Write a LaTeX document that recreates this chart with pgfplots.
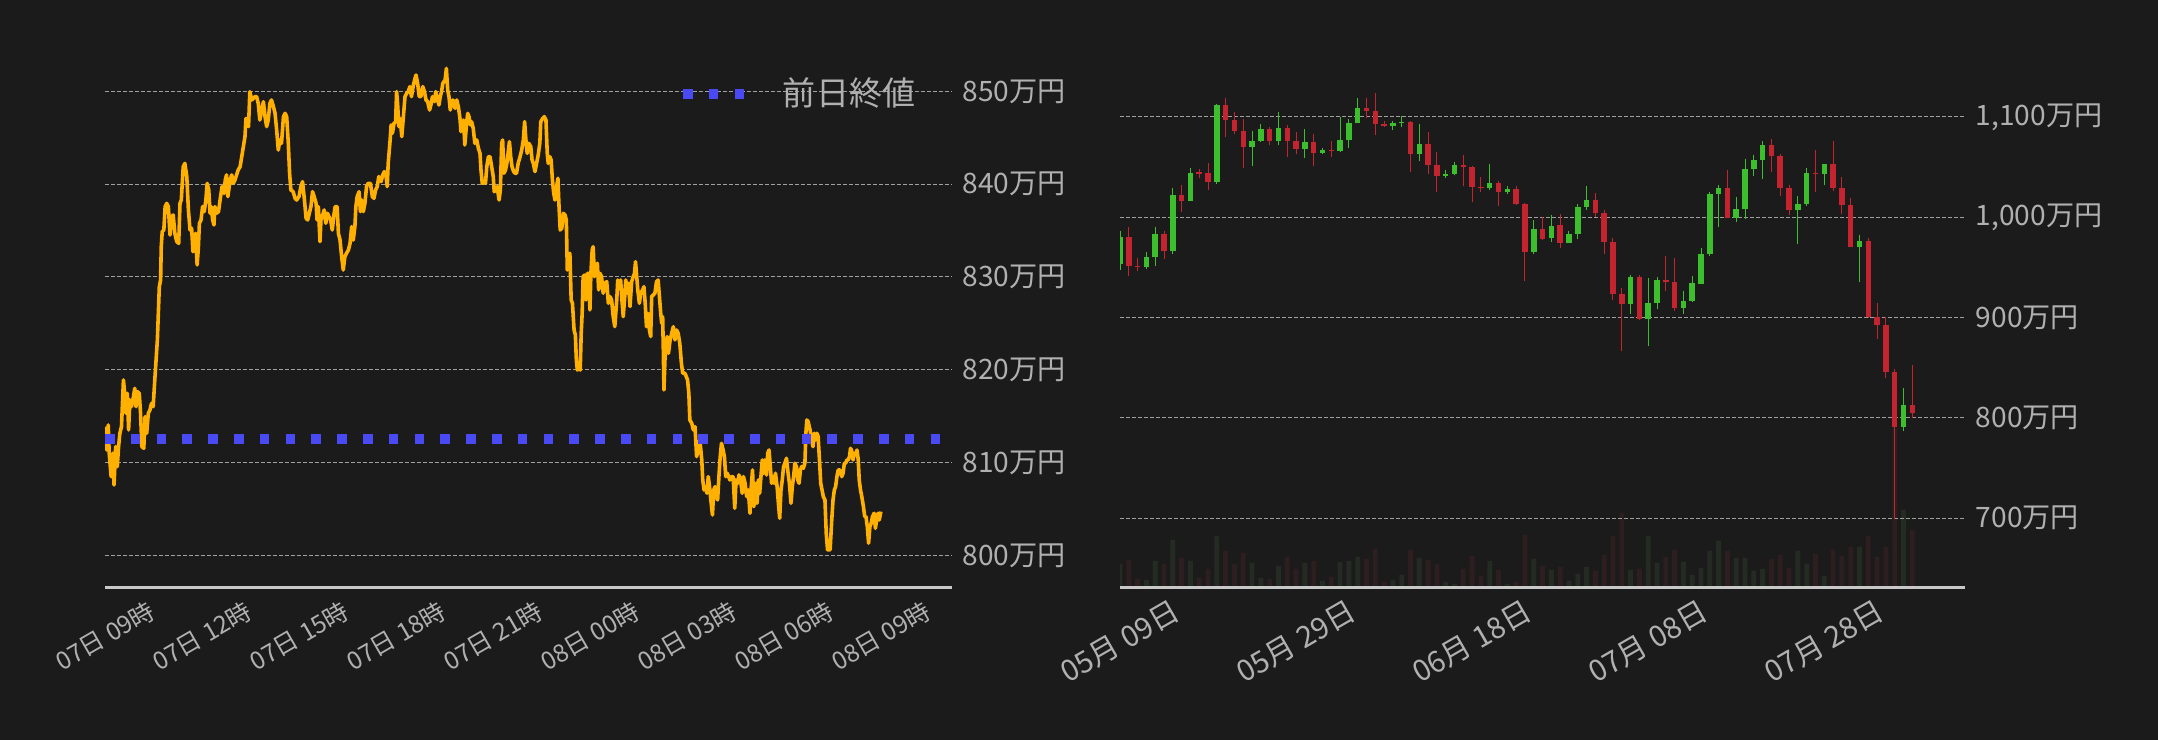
\documentclass[border=0pt]{standalone}
\usepackage{fontspec}
\setmainfont{Noto Sans CJK JP}
\usepackage{pgfplots}
\pgfplotsset{compat=1.18}
\usepackage{pgfplotstable}

\definecolor{bg}{HTML}{1B1B1B}
\definecolor{lbl}{HTML}{B0B0B0}
\definecolor{gridc}{HTML}{A0A0A0}
\definecolor{axc}{HTML}{C8C8C8}
\definecolor{gold}{HTML}{FFB000}
\definecolor{prevc}{HTML}{4A4AF5}
\definecolor{up}{HTML}{3DBE2D}
\definecolor{down}{HTML}{C42430}
\definecolor{upvol}{HTML}{232B23}
\definecolor{downvol}{HTML}{2D1E1F}

% 1 px of the reference = 0.1 mm
\pgfplotsset{
  darkax/.style={
    scale only axis, anchor=south west,
    axis x line*=bottom, axis y line*=right,
    x axis line style={draw=axc, line width=0.3mm, -},
    y axis line style={draw=none},
    major tick length=0pt,
    ymajorgrids,
    grid style={draw=gridc, line width=0.1mm, dash pattern=on 0.4mm off 0.2mm},
    yticklabel style={anchor=west, inner sep=0pt, xshift=1mm, text=lbl,
      font=\fontsize{8pt}{9pt}\selectfont},
    xticklabel style={inner sep=0pt, text=lbl, anchor=center},
  },
  candle/.style 2 args={draw=none, mark=none, error bars/.cd, y dir=plus, y explicit,
    error mark=none, error bar style={draw=#1, line width=#2}},
}

% intraday price, hours from 07日 00時, 万円
\pgfplotstableread{
h v
9.02 813.87
9.05 811.35
9.10 814.05
9.13 811.0
9.19 808.48
9.24 811.0
9.28 807.58
9.33 811.71
9.38 809.56
9.42 811.71
9.46 813.15
9.51 813.87
9.54 816.38
9.57 818.9
9.61 817.46
9.65 815.3
9.69 817.46
9.73 813.51
9.77 816.74
9.82 816.02
9.88 817.1
9.92 818.0
9.96 816.02
10.00 817.64
10.06 817.46
10.10 815.3
10.14 811.71
10.20 811.53
10.24 814.95
10.29 813.15
10.34 815.3
10.39 815.66
10.44 816.38
10.49 816.02
10.54 818.9
10.58 821.05
10.62 823.21
10.65 826.08
10.68 828.95
10.72 829.67
10.74 833.26
10.77 834.88
10.82 835.06
10.86 837.58
10.91 837.93
10.96 837.58
11.01 834.52
11.06 836.5
11.11 836.68
11.16 834.7
11.22 833.8
11.28 833.62
11.32 837.93
11.36 838.29
11.42 841.89
11.47 842.24
11.53 840.81
11.58 837.22
11.63 835.06
11.68 835.24
11.72 832.73
11.76 832.91
11.80 834.7
11.85 831.29
11.89 833.26
11.92 835.78
11.97 836.14
12.02 837.58
12.07 837.04
12.12 838.29
12.16 840.09
12.21 839.37
12.25 836.86
12.29 837.58
12.33 836.14
12.37 835.6
12.40 837.58
12.45 836.86
12.51 837.04
12.56 838.29
12.62 839.73
12.68 839.01
12.72 840.45
12.76 840.99
12.80 838.65
12.87 840.45
12.92 840.99
12.97 840.09
13.02 840.45
13.07 840.99
13.12 841.53
13.18 841.89
13.23 842.96
13.28 844.04
13.33 845.12
13.36 847.09
13.40 846.56
13.44 846.2
13.48 849.97
13.54 849.07
13.59 849.25
13.64 849.43
13.69 849.43
13.74 848.71
13.79 846.91
13.85 847.99
13.90 848.89
13.95 847.27
14.00 846.2
14.05 846.91
14.10 848.71
14.15 849.07
14.21 848.35
14.26 847.63
14.31 845.84
14.36 843.68
14.41 844.76
14.46 844.4
14.52 847.27
14.57 847.63
14.62 847.27
14.67 844.4
14.71 841.17
14.75 839.37
14.82 839.19
14.88 838.47
14.93 838.29
15.00 838.65
15.06 839.73
15.11 840.27
15.17 838.29
15.22 836.32
15.27 836.14
15.32 836.86
15.37 837.58
15.42 839.19
15.47 838.65
15.53 837.93
15.56 836.14
15.60 837.58
15.65 833.8
15.68 836.14
15.72 836.5
15.78 837.22
15.83 835.78
15.88 836.86
15.93 836.5
15.98 836.14
16.03 835.06
16.08 836.68
16.12 837.58
16.18 837.58
16.22 834.7
16.27 833.98
16.32 832.19
16.37 830.75
16.42 832.19
16.47 832.55
16.53 832.91
16.58 833.62
16.63 835.42
16.68 833.98
16.73 835.42
16.76 837.58
16.80 838.65
16.86 839.19
16.90 837.04
16.94 838.29
16.99 837.04
17.04 837.93
17.09 839.73
17.14 840.09
17.21 840.09
17.27 838.65
17.32 838.47
17.37 839.37
17.42 839.73
17.47 840.81
17.54 840.27
17.59 840.99
17.64 841.35
17.69 840.99
17.73 839.73
17.76 842.24
17.82 844.76
17.85 846.38
17.89 845.48
17.94 846.56
17.99 846.73
18.02 849.97
18.05 848.71
18.09 846.2
18.13 847.09
18.18 845.12
18.23 847.27
18.28 849.43
18.33 849.79
18.38 849.97
18.43 850.51
18.48 849.43
18.54 850.69
18.59 851.4
18.62 851.76
18.67 850.87
18.72 849.43
18.77 849.43
18.83 850.51
18.88 849.97
18.93 849.07
18.98 848.89
19.04 847.99
19.08 848.53
19.13 849.43
19.19 848.89
19.23 849.97
19.29 849.07
19.33 848.53
19.37 849.43
19.41 849.97
19.45 850.87
19.52 851.22
19.56 852.48
19.60 850.15
19.64 849.43
19.68 847.99
19.72 848.71
19.76 849.07
19.83 848.17
19.88 849.07
19.93 848.35
19.98 847.09
20.01 845.66
20.05 846.2
20.09 846.91
20.13 844.22
20.19 846.73
20.22 847.63
20.26 847.27
20.30 846.38
20.34 846.73
20.39 846.02
20.44 844.4
20.50 844.76
20.55 843.86
20.60 843.32
20.63 841.53
20.67 840.09
20.73 840.27
20.77 840.09
20.81 841.89
20.86 842.96
20.91 842.96
20.96 841.89
21.01 840.81
21.04 839.19
21.09 839.37
21.13 839.73
21.19 838.29
21.23 839.37
21.27 844.4
21.30 844.76
21.34 841.17
21.39 841.53
21.43 842.24
21.48 843.68
21.51 844.58
21.55 842.96
21.59 841.89
21.64 841.35
21.69 841.17
21.73 841.17
21.78 842.24
21.84 842.96
21.89 843.68
21.94 844.76
21.98 846.73
22.02 844.76
22.06 843.32
22.11 844.4
22.17 844.04
22.21 842.6
22.25 842.24
22.30 841.35
22.35 842.24
22.40 843.14
22.45 844.4
22.48 846.73
22.54 847.09
22.59 847.27
22.64 846.91
22.68 843.32
22.71 842.24
22.76 842.96
22.80 842.6
22.84 840.45
22.88 839.01
22.92 838.29
22.97 839.73
23.01 840.63
23.04 837.93
23.08 835.06
23.13 835.24
23.18 836.86
23.23 836.68
23.27 836.14
23.30 830.75
23.34 831.83
23.38 832.55
23.42 827.52
23.46 827.16
23.51 824.28
23.55 823.75
23.58 821.05
23.61 819.97
23.65 820.15
23.70 819.97
23.73 823.93
23.76 826.08
23.79 830.03
23.84 830.21
23.88 827.52
23.92 830.39
23.96 830.39
24.00 826.44
24.03 830.39
24.07 832.91
24.10 833.26
24.14 830.03
24.19 831.11
24.23 831.47
24.27 828.6
24.31 830.39
24.36 830.03
24.41 828.24
24.46 829.31
24.52 829.49
24.57 827.16
24.62 827.88
24.67 827.52
24.72 825.72
24.77 824.64
24.83 827.52
24.86 829.67
24.90 828.95
24.95 829.67
24.99 827.52
25.03 825.72
25.07 827.52
25.11 829.67
25.16 828.24
25.20 829.31
25.24 826.8
25.29 829.49
25.34 830.03
25.38 830.39
25.41 831.65
25.44 830.39
25.48 828.6
25.53 827.16
25.57 828.24
25.63 828.6
25.67 828.95
25.71 827.16
25.75 824.64
25.79 826.08
25.84 824.28
25.88 823.57
25.91 827.88
25.96 828.06
26.01 828.24
26.06 829.49
26.11 829.67
26.15 827.88
26.19 826.08
26.22 825.0
26.25 825.72
26.27 822.13
26.29 817.82
26.32 821.05
26.35 822.49
26.39 823.57
26.43 821.77
26.48 823.21
26.53 823.93
26.58 824.64
26.63 823.21
26.68 824.28
26.73 823.93
26.78 822.85
26.83 820.69
26.87 819.62
26.94 819.62
27.02 818.9
27.06 817.46
27.09 814.59
27.15 814.23
27.20 813.51
27.25 813.87
27.30 810.64
27.35 811.35
27.40 812.43
27.46 810.28
27.49 808.12
27.53 807.04
27.58 807.4
27.62 806.68
27.66 808.48
27.70 807.4
27.74 805.97
27.79 804.35
27.83 807.04
27.87 807.4
27.91 806.32
27.95 805.97
27.99 808.48
28.03 810.64
28.07 812.07
28.12 811.35
28.16 810.64
28.20 808.48
28.25 808.84
28.29 808.48
28.33 808.12
28.38 808.48
28.43 808.48
28.48 805.07
28.52 808.12
28.57 807.76
28.61 808.66
28.66 808.12
28.71 806.68
28.75 808.48
28.80 807.76
28.85 806.32
28.90 807.04
28.95 804.53
28.99 807.4
29.03 809.2
29.07 805.25
29.13 807.76
29.17 805.61
29.21 808.12
29.25 806.68
29.29 808.48
29.33 810.28
29.37 808.84
29.41 810.28
29.46 808.66
29.50 811.0
29.54 811.35
29.58 809.56
29.62 807.76
29.66 808.48
29.70 807.76
29.74 808.84
29.79 807.4
29.83 805.61
29.87 803.99
29.91 807.04
29.95 808.12
29.99 809.56
30.03 809.92
30.08 810.46
30.13 808.84
30.17 807.76
30.22 805.61
30.26 807.4
30.30 808.48
30.34 809.92
30.39 809.56
30.43 808.12
30.47 807.76
30.51 809.2
30.55 809.56
30.60 809.38
30.65 809.92
30.68 813.15
30.71 814.59
30.75 814.41
30.81 813.51
30.86 812.43
30.90 811.71
30.94 813.15
30.98 812.43
31.02 813.15
31.06 812.79
31.10 810.28
31.14 807.76
31.18 807.04
31.22 806.32
31.27 805.97
31.31 802.37
31.35 800.58
31.39 800.58
31.43 800.58
31.48 803.81
31.52 805.97
31.56 807.04
31.60 807.4
31.64 808.48
31.68 809.2
31.73 809.2
31.79 808.48
31.83 808.84
31.87 809.92
31.91 809.92
31.95 810.28
31.99 810.28
32.03 810.64
32.06 811.53
32.09 811.35
32.14 810.28
32.18 811.0
32.22 810.82
32.26 811.35
32.30 810.28
32.33 808.12
32.37 807.04
32.41 806.32
32.46 805.25
32.50 804.17
32.54 804.17
32.58 803.09
32.62 801.3
32.66 803.09
32.70 803.45
32.74 804.17
32.79 804.53
32.83 802.91
32.87 803.81
32.91 804.53
32.95 803.81
33.00 804.71
}\intraday

% daily candles, day 0 = 05月09日: open high low close volume
\pgfplotstableread{
i o h l c v
0 953.0 986.6 947.0 980.6 24
3 950.0 965.7 948.0 960.3 8
4 960.0 990.6 951.0 983.6 27
6 966.0 1029.5 963.0 1022.5 48
8 1015.9 1049.5 1015.9 1044.5 27
11 1034.8 1113.3 1032.8 1112.3 52
15 1069.7 1086.4 1050.8 1076.4 25
16 1075.7 1093.4 1074.7 1088.4 10
18 1075.7 1105.3 1071.7 1089.4 22
21 1067.7 1088.4 1058.8 1075.4 25
23 1063.8 1069.4 1062.8 1067.4 7
25 1065.8 1100.3 1064.8 1077.4 26
26 1076.7 1098.3 1068.7 1094.3 27
27 1093.7 1119.3 1093.7 1109.3 31
31 1090.7 1096.3 1086.7 1094.3 8
32 1093.7 1101.3 1089.7 1095.3 13
34 1062.8 1093.4 1055.8 1073.4 30
37 1040.8 1047.5 1038.8 1043.5 6
38 1042.8 1055.4 1041.8 1052.5 4
42 1028.8 1053.5 1026.9 1034.5 27
44 1024.9 1031.5 1022.9 1028.5 4
47 965.0 997.6 963.0 988.6 29
49 979.0 1002.6 975.0 991.6 18
51 974.0 986.6 974.0 983.6 7
52 983.0 1013.5 978.0 1010.6 14
53 1009.9 1031.5 1006.9 1017.5 21
58 913.1 942.7 903.2 940.7 18
60 898.2 939.7 871.2 914.8 52
61 914.1 940.7 908.1 937.7 25
64 909.1 926.8 903.2 916.5 26
65 916.1 941.7 915.1 934.4 13
66 933.1 969.7 933.1 963.3 20
67 963.0 1025.5 961.0 1023.2 37
68 1022.9 1032.5 989.9 1029.2 47
70 999.3 1020.5 995.0 1008.2 30
71 1007.9 1058.4 997.9 1048.5 30
72 1047.8 1062.4 1040.8 1057.4 17
73 1056.8 1076.4 1037.8 1072.4 19
77 1006.9 1021.5 973.0 1013.5 37
78 1012.9 1049.5 1010.9 1044.5 24
80 1042.8 1053.5 1031.8 1053.5 12
84 970.0 982.6 935.1 976.6 41
89 790.4 830.0 786.5 813.1 78
}\upT

\pgfplotstableread{
i o h l c v
1 980.6 990.6 941.0 951.0 28
2 951.7 959.7 946.0 950.0 9
5 983.6 986.6 958.0 966.0 24
7 1022.5 1032.5 1004.9 1015.9 30
9 1045.0 1048.5 1038.8 1043.5 10
10 1044.5 1054.4 1026.9 1034.8 19
12 1112.3 1119.3 1079.7 1096.7 37
13 1097.3 1105.3 1082.7 1085.7 24
14 1086.4 1098.3 1048.8 1069.7 35
17 1088.4 1090.4 1071.7 1075.7 9
19 1089.4 1092.4 1059.8 1075.7 31
20 1076.4 1085.4 1062.8 1067.7 19
22 1075.4 1083.4 1050.8 1063.8 27
24 1067.4 1076.4 1059.8 1065.8 11
28 1109.3 1119.3 1099.0 1105.7 29
29 1106.3 1123.6 1081.7 1092.7 39
30 1093.4 1096.3 1090.0 1090.7 6
33 1095.3 1096.3 1044.8 1062.8 38
35 1073.4 1085.4 1042.8 1051.8 28
36 1052.5 1065.4 1024.9 1040.8 24
39 1052.5 1062.4 1030.8 1049.8 19
40 1050.5 1051.5 1014.9 1029.8 32
41 1030.5 1040.5 1024.9 1028.8 12
43 1034.5 1036.5 1010.9 1024.9 18
45 1028.5 1031.5 1011.9 1012.9 6
46 1013.5 1014.5 936.1 965.0 53
48 988.6 1000.6 977.6 978.6 22
50 992.6 1003.6 969.0 974.0 21
54 1017.5 1024.5 999.9 1003.9 17
55 1004.6 1007.6 963.0 975.0 33
56 975.6 979.6 917.1 923.1 52
57 923.8 929.8 866.3 913.1 75
59 940.7 942.7 897.2 898.2 19
62 937.4 961.7 926.1 935.1 31
63 935.4 959.7 906.2 909.1 38
69 1029.2 1047.5 999.3 999.3 37
74 1072.4 1078.4 1044.8 1060.8 29
75 1061.4 1063.4 1020.9 1028.8 33
76 1029.5 1032.5 1001.9 1006.9 20
79 1044.5 1067.4 1024.9 1042.8 34
81 1053.5 1076.4 1025.9 1028.8 38
82 1029.5 1040.5 1002.9 1011.9 32
83 1012.5 1019.5 970.0 970.0 41
85 976.6 979.6 899.2 900.2 52
86 900.8 914.8 878.9 892.2 31
87 892.9 900.2 839.3 845.3 41
88 846.0 849.0 699.0 790.4 159
90 813.1 852.9 799.4 804.4 58
}\downT

\begin{document}
\begin{tikzpicture}
\fill[bg] (0,0) rectangle (215.8mm,74mm);

% ---- left: intraday line ----
\begin{axis}[darkax,
  at={(10.5mm,15.2mm)}, width=84.7mm, height=52.91mm,
  xmin=9, xmax=35.2, ymin=796.48, ymax=853.5,
  xtick={9,12,...,33},
  xticklabels={07日 09時,07日 12時,07日 15時,07日 18時,07日 21時,08日 00時,08日 03時,08日 06時,08日 09時},
  xticklabel style={font=\fontsize{7pt}{8pt}\selectfont, yshift=-4.8mm, rotate=30},
  ytick={800,810,...,850},
  yticklabels={800万円,810万円,820万円,830万円,840万円,850万円},
  legend style={at={(0.6824,0.9335)}, anchor=west, draw=none, fill=none,
    inner sep=0pt, outer sep=0pt, text=lbl,
    font=\fontsize{9.4pt}{11pt}\selectfont,
    nodes={inner sep=0pt}},
  legend image code/.code={
    \path[draw=none, fill=none] (0mm,0mm) -- (10mm,0mm);
    \fill[prevc, draw=none] (0mm,-0.5mm) rectangle (0.95mm,0.5mm);
    \fill[prevc, draw=none] (2.58mm,-0.5mm) rectangle (3.53mm,0.5mm);
    \fill[prevc, draw=none] (5.15mm,-0.5mm) rectangle (6.1mm,0.5mm);},
]
\addplot[gold, line width=0.36mm, line join=round, forget plot] table[x=h, y=v] {\intraday};
\addplot[prevc, line width=1mm, dash pattern=on 0.95mm off 1.63mm] coordinates {(9,812.5) (34.9,812.5)};
\addlegendentry{前日終値}
\end{axis}

% ---- right: volume underlay ----
\begin{axis}[scale only axis, anchor=south west,
  at={(112mm,15.2mm)}, width=84.51mm, height=51.11mm,
  xmin=0, xmax=96, ymin=0, ymax=511, hide axis,
  ybar, bar width=0.48mm]
\addplot[fill=upvol, draw=none, bar shift=0pt] table[x=i, y=v] {\upT};
\addplot[fill=downvol, draw=none, bar shift=0pt] table[x=i, y=v] {\downT};
\end{axis}

% ---- right: daily candles ----
\begin{axis}[darkax,
  at={(112mm,15.2mm)}, width=84.51mm, height=51.11mm,
  xmin=0, xmax=96, ymin=630.2, ymax=1140,
  xtick={0,20,...,80},
  xticklabels={05月 09日,05月 29日,06月 18日,07月 08日,07月 28日},
  xticklabel style={font=\fontsize{8.4pt}{9pt}\selectfont, yshift=-5.4mm, rotate=30},
  ytick={700,800,...,1100},
  yticklabels={700万円,800万円,900万円,{1,000万円},{1,100万円}},
]
% wicks
\addplot[candle={up}{0.1mm}]
  table[x=i, y=l, y error expr=\thisrow{h}-\thisrow{l}] {\upT};
\addplot[candle={down}{0.1mm}]
  table[x=i, y=l, y error expr=\thisrow{h}-\thisrow{l}] {\downT};
% bodies
\addplot[candle={up}{0.55mm}]
  table[x=i, y=o, y error expr=\thisrow{c}-\thisrow{o}] {\upT};
\addplot[candle={down}{0.55mm}]
  table[x=i, y=c, y error expr=\thisrow{o}-\thisrow{c}] {\downT};
\end{axis}

\pgfresetboundingbox
\useasboundingbox (0,0) rectangle (215.8mm,74mm);
\end{tikzpicture}
\end{document}
